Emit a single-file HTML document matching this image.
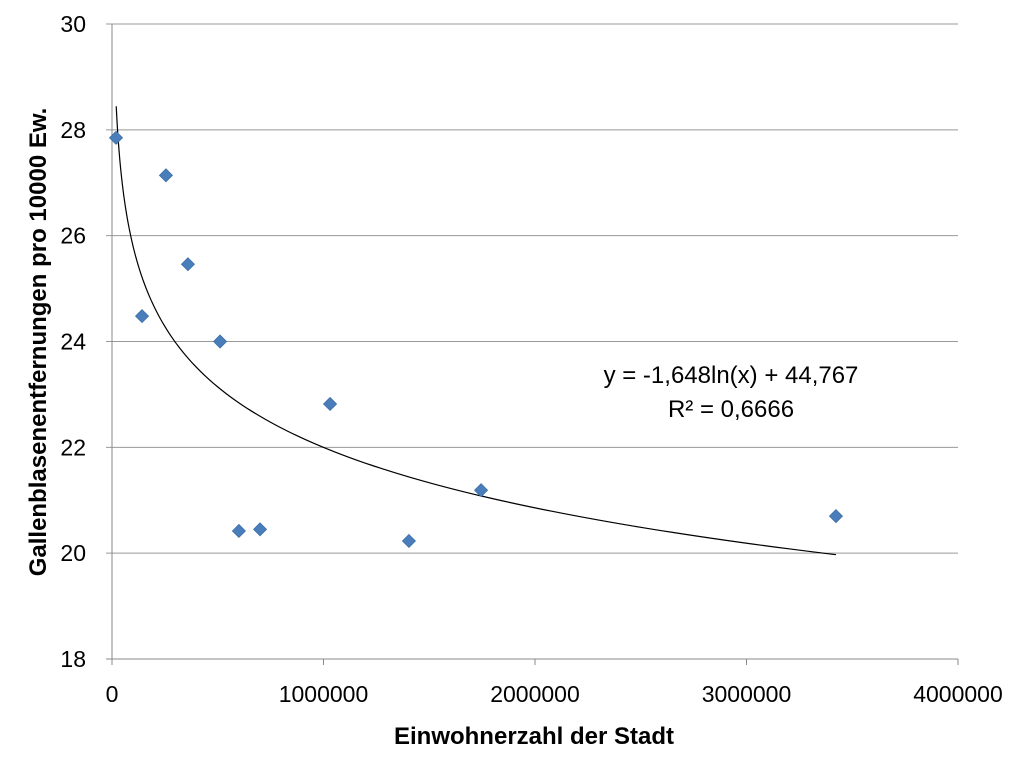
<!DOCTYPE html>
<html><head><meta charset="utf-8"><style>
body{margin:0;background:#fff;font-family:"Liberation Sans",sans-serif}
</style></head><body>
<svg width="1024" height="768" xmlns="http://www.w3.org/2000/svg">
<g id="grid"></g>
<g id="axes"></g>
<path id="trend" fill="none" stroke="#000" stroke-width="1.2"/>
<g id="pts"></g>
<text x="731" y="383" text-anchor="middle" font-size="24">y = -1,648ln(x) + 44,767</text>
<text x="731" y="417" text-anchor="middle" font-size="24">R² = 0,6666</text>
<text x="534" y="744" text-anchor="middle" font-size="24" font-weight="bold">Einwohnerzahl der Stadt</text>
<text transform="translate(46,342) rotate(-90)" text-anchor="middle" font-size="24" font-weight="bold">Gallenblasenentfernungen pro 10000 Ew.</text>
</svg>
<script>
const xVals=[19000,142000,255000,359000,511000,600000,700000,1031000,1404000,1745000,3423000];
const yVals=[27.85,24.48,27.14,25.46,24.0,20.42,20.45,22.82,20.23,21.19,20.70];
const xTicks=[0,1000000,2000000,3000000,4000000];
const yTicks=[18,20,22,24,26,28,30];
const trendA=-1.648, trendB=44.767, trendMin=20000, trendMax=3423000;
const X0=112,X1=958,Y0=659,Y1=24;
const sx=v=>X0+(v-0)/4000000*(X1-X0);
const sy=v=>Y0-(v-18)/12*(Y0-Y1);
const NS="http://www.w3.org/2000/svg";
const grid=document.getElementById('grid'),axes=document.getElementById('axes');
function mk(tag,attrs,parent){const e=document.createElementNS(NS,tag);for(const k in attrs)e.setAttribute(k,attrs[k]);parent.appendChild(e);return e;}
yTicks.forEach(t=>{
 const l=mk('line',{x1:X0-6,x2:X1,y1:sy(t),y2:sy(t),stroke:t===18?'#888':'#999','stroke-width':1},grid);
 
 
 const tx=mk('text',{x:X0-26,y:sy(t)+8,'text-anchor':'end','font-size':23},axes);tx.textContent=t;
 
 
});
const ya=mk('line',{x1:X0,x2:X0,y1:Y1,y2:Y0,stroke:'#888'},axes);


xTicks.forEach(t=>{
 const l=mk('line',{x1:sx(t),x2:sx(t),y1:Y0,y2:Y0+6,stroke:'#888'},axes);
 
 
 const tx=mk('text',{x:sx(t),y:Y0+43,'text-anchor':'middle','font-size':23},axes);tx.textContent=t;
 
 
});
let d='';
for(let i=0;i<=300;i++){const x=trendMin*Math.pow(trendMax/trendMin,i/300);d+=(i?'L':'M')+sx(x).toFixed(2)+','+sy(trendA*Math.log(x)+trendB).toFixed(2);}
document.getElementById('trend').setAttribute('d',d);
const pts=document.getElementById('pts');
xVals.forEach((x,i)=>{
 const cx=sx(x),cy=sy(yVals[i]),r=6.5;
 const p=mk('polygon',{points:`${cx},${cy-r} ${cx+r},${cy} ${cx},${cy+r} ${cx-r},${cy}`,fill:'#4a7ebb',stroke:'#3d6ea8','stroke-width':0.8},pts);
 
 
});
</script>
</body></html>
